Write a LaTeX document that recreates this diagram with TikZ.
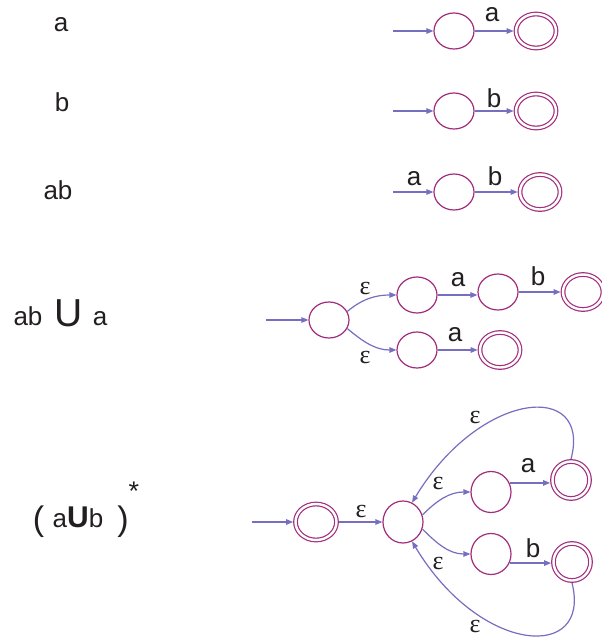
\documentclass[tikz,border=0pt]{standalone}
\usepackage{fontspec}
\setmainfont{Liberation Sans}
\newfontfamily\epsfont{Liberation Serif}
\usetikzlibrary{shapes.geometric,arrows.meta}
\definecolor{stc}{RGB}{163,45,125}
\definecolor{arc}{RGB}{118,110,192}
\definecolor{txt}{RGB}{35,31,32}
\tikzset{
  st/.style={ellipse, draw=stc, line width=1.2pt, minimum width=40pt, minimum height=36pt, inner sep=0pt},
  acc/.style={ellipse, draw=stc, double=white, double distance=2.4pt, line width=1.2pt,
              minimum width=40pt, minimum height=34pt, inner sep=0pt, outer sep=2.4pt},
  arr/.style={draw=arc, line width=1.2pt, -{Triangle[length=7pt,width=5.5pt]}},
  lbl/.style={font=\fontsize{26}{26}\selectfont, text=txt, inner sep=0pt, anchor=base},
  eps/.style={font=\epsfont\fontsize{26}{26}\selectfont, text=txt, inner sep=0pt},
}
\begin{document}
\begin{tikzpicture}[x=1pt,y=1pt]
\useasboundingbox (0,0) rectangle (602,-638);
\fill[white] (0,0) rectangle (602,-638);

% ---- left expressions
\node[lbl] (e1) at (61,-31) {a};
\node[lbl] (e2) at (62,-111) {b};
\node[lbl] (e3) at (58,-199) {ab};
\node[lbl] (e4a) at (28,-325) {ab};
\node[lbl, font=\fontsize{39}{39}\selectfont] (e4u) at (69,-326) {U};
\node[lbl] (e4b) at (100,-325) {a};
\node[lbl, font=\fontsize{34}{34}\selectfont] (e5l) at (38.5,-530) {(};
\node[lbl] (e5m) at (78,-527) {a{\bfseries\fontsize{30}{30}\selectfont U}b};
\node[lbl, font=\fontsize{34}{34}\selectfont] (e5r) at (123,-530) {)};
\node[anchor=center, inner sep=0pt, text=txt, font=\fontsize{27}{27}\selectfont] (e5s) at (134,-491) {*};

% ---- row 1: a
\coordinate (i1) at (393,-31);
\node[st] (s1) at (454,-31) {};
\node[acc] (f1) at (536,-31) {};
\draw[arr] (i1) -- (s1);
\draw[arr] (s1) -- (f1);
\node[lbl] (l1) at (492,-21.5) {a};

% ---- row 2: b
\coordinate (i2) at (393,-111);
\node[st] (s2) at (454,-111) {};
\node[acc] (f2) at (536,-111) {};
\draw[arr] (i2) -- (s2);
\draw[arr] (s2) -- (f2);
\node[lbl] (l2) at (494,-107) {b};

% ---- row 3: ab
\coordinate (i3) at (393,-192);
\node[st] (s3) at (454,-192) {};
\node[acc, minimum height=35pt] (f3) at (540,-192) {};
\draw[arr] (i3) -- (s3);
\draw[arr] (s3) -- (f3);
\node[lbl] (l3a) at (414,-185) {a};
\node[lbl] (l3b) at (495,-185) {b};

% ---- row 4: ab U a
\coordinate (i4) at (266,-320);
\node[st] (s4) at (329,-320) {};
\node[st] (u4) at (417,-295) {};
\node[st] (m4) at (498,-292) {};
\node[acc, minimum height=35pt] (f4) at (583,-292) {};
\node[st] (d4) at (417,-350) {};
\node[acc, minimum height=35pt] (g4) at (500,-350) {};
\draw[arr] (i4) -- (s4);
\draw[arr] (s4.25) to[out=40,in=180] (u4.west);
\draw[arr] (s4.-25) to[out=-40,in=180] (d4.west);
\draw[arr] (u4) -- (m4.west |- u4);
\draw[arr] (m4) -- (f4);
\draw[arr] (d4) -- (g4);
\node[eps] (l4e1) at (365,-288) {ε};
\node[eps] (l4e2) at (365,-357) {ε};
\node[lbl] (l4a) at (458,-286) {a};
\node[lbl] (l4b) at (538,-285) {b};
\node[lbl] (l4c) at (455,-341) {a};

% ---- row 5: (a U b)*
\coordinate (i5) at (252,-522);
\node[acc, minimum width=41pt, minimum height=36pt] (s5) at (316,-522) {};
\node[st, minimum height=42pt] (h5) at (403,-522) {};
\node[st, minimum height=41pt] (u5) at (491,-492) {};
\node[acc, minimum width=37pt, minimum height=37pt] (fu5) at (571,-480) {};
\node[st, minimum height=41pt] (d5) at (491,-554) {};
\node[acc, minimum width=37pt, minimum height=37pt] (fd5) at (572,-562) {};
\draw[arr] (i5) -- (s5);
\draw[arr] (s5) -- (h5);
\draw[arr] (h5.20) to[out=45,in=180] (u5.west);
\draw[arr] (h5.-20) to[out=-45,in=180] (d5.west);
\draw[arr] (u5.26) -- (u5.26 -| fu5.west);
\draw[arr] (d5.-26) -- (d5.-26 -| fd5.west);
\draw[arr] (fu5.north) .. controls (592,-380) and (480,-390) .. (h5.65);
\draw[arr] (fd5.south) .. controls (592,-662) and (480,-655) .. (h5.-65);
\node[eps] (l5e0) at (361,-511) {ε};
\node[eps] (l5e1) at (438,-483) {ε};
\node[eps] (l5e2) at (438,-563) {ε};
\node[eps] (l5e3) at (475,-417) {ε};
\node[eps] (l5e4) at (475,-626) {ε};
\node[lbl] (l5a) at (528,-472) {a};
\node[lbl] (l5b) at (533,-557) {b};
\end{tikzpicture}
\end{document}
